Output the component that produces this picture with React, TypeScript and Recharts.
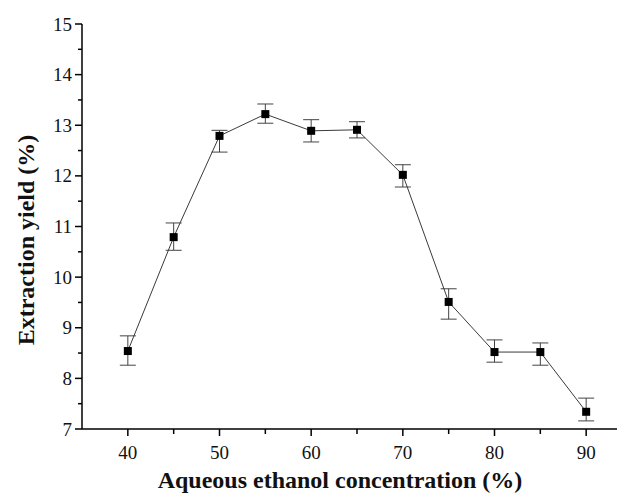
import React from 'react';
import { LineChart, Line, XAxis, YAxis, ErrorBar, Label } from 'recharts';

const concentrations = [40, 45, 50, 55, 60, 65, 70, 75, 80, 85, 90];
const yields = [8.54, 10.79, 12.79, 13.22, 12.89, 12.91, 12.02, 9.51, 8.52, 8.52, 7.34];
const errLow = [0.28, 0.26, 0.32, 0.18, 0.22, 0.16, 0.24, 0.34, 0.2, 0.26, 0.18];
const errHigh = [0.3, 0.28, 0.11, 0.2, 0.22, 0.16, 0.2, 0.26, 0.24, 0.18, 0.27];

const xTicks = [40, 45, 50, 55, 60, 65, 70, 75, 80, 85, 90, 95];
const yTicks = [7, 7.5, 8, 8.5, 9, 9.5, 10, 10.5, 11, 11.5, 12, 12.5, 13, 13.5, 14, 14.5, 15];

const data = concentrations.map((c, i) => ({
  conc: c,
  yield: yields[i],
  err: [errLow[i], errHigh[i]],
}));

const FONT = '"Liberation Serif", "Times New Roman", serif';

const XTick = (props: any) => {
  const { x, y, payload } = props;
  const major = payload.value % 10 === 0;
  return (
    <g>
      <line x1={x} x2={x} y1={y} y2={y + (major ? 7 : 5)} stroke="#000" strokeWidth={1.5} />
      {major && (
        <text x={x} y={y + 23} textAnchor="middle" dominantBaseline="central" fontFamily={FONT} fontSize={19} fill="#111">
          {payload.value}
        </text>
      )}
    </g>
  );
};

const YTick = (props: any) => {
  const { x, y, payload } = props;
  const major = Number.isInteger(payload.value);
  return (
    <g>
      <line x1={x} x2={x - (major ? 7 : 4)} y1={y} y2={y} stroke="#000" strokeWidth={1.5} />
      {major && (
        <text x={x - 10} y={y} textAnchor="end" dominantBaseline="central" fontFamily={FONT} fontSize={19} fill="#111">
          {payload.value}
        </text>
      )}
    </g>
  );
};

const SquareDot = (props: any) => {
  const { cx, cy } = props;
  if (cx == null || cy == null) return null;
  return <rect x={cx - 4} y={cy - 4} width={8} height={8} fill="#000" />;
};

export default function App() {
  return (
    <div style={{ width: 617, height: 485, overflow: 'hidden' }}>
      <LineChart width={640} height={485} data={data} margin={{ top: 16, right: 16, bottom: 0, left: 0 }}>
        <XAxis
          dataKey="conc"
          type="number"
          domain={[35, 95]}
          ticks={xTicks}
          tick={<XTick />}
          tickLine={false}
          tickSize={0}
          tickMargin={0}
          height={64}
          axisLine={{ stroke: '#000', strokeWidth: 1.5 }}
          interval={0}
        >
          <Label
            content={() => (
              <text x={332} y={472} textAnchor="middle" dominantBaseline="central" fontFamily={FONT} fontSize={24} fontWeight="bold" fill="#111">
                Aqueous ethanol concentration (%)
              </text>
            )}
          />
        </XAxis>
        <YAxis
          type="number"
          domain={[7, 15]}
          ticks={yTicks}
          tick={<YTick />}
          tickLine={false}
          tickSize={0}
          tickMargin={0}
          width={74}
          axisLine={{ stroke: '#000', strokeWidth: 1.5 }}
          interval={0}
        >
          <Label
            content={() => (
              <text
                x={18}
                y={232}
                transform="rotate(-90 18 232)"
                textAnchor="middle"
                dominantBaseline="central"
                fontFamily={FONT}
                fontSize={24}
                fontWeight="bold"
                fill="#111"
              >
                Extraction yield (%)
              </text>
            )}
          />
        </YAxis>
        <Line
          dataKey="yield"
          stroke="#3a3a3a"
          strokeWidth={1}
          dot={<SquareDot />}
          activeDot={false}
          isAnimationActive={false}
        >
          <ErrorBar dataKey="err" width={8} stroke="#444" strokeWidth={1} direction="y" />
        </Line>
      </LineChart>
    </div>
  );
}
